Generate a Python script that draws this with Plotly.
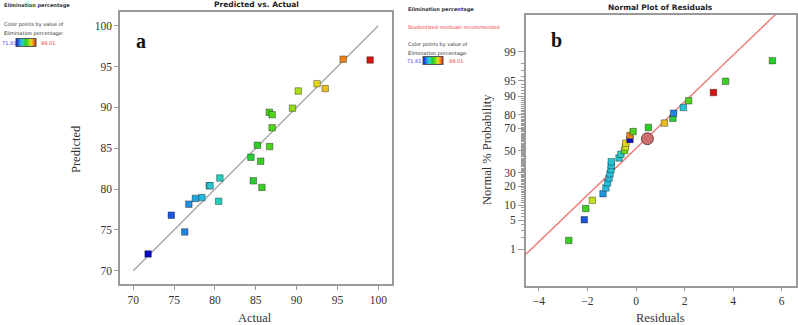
import plotly.graph_objects as go
import numpy as np
from statistics import NormalDist

# ---------------- data ----------------
# Panel a: Predicted vs. Actual (Elimination percentage)
actual = [95.7, 99.0, 92.5, 93.5, 90.2, 89.5, 86.65, 87.0, 87.0, 85.2, 86.7, 84.4, 85.6,
          80.6, 84.7, 85.75, 79.3, 79.4, 78.4, 77.6, 80.45, 76.8, 74.65, 76.3, 71.81]
predicted = [95.9, 95.8, 92.9, 92.3, 92.0, 89.9, 89.4, 89.1, 87.5, 85.35, 85.2, 83.9, 83.4,
             81.35, 81.0, 80.2, 80.4, 80.4, 78.95, 78.85, 78.5, 78.15, 76.8, 74.75, 72.05]

# Panel b: Normal plot of residuals
residuals = [-2.77, -2.13, -2.07, -1.80, -1.36, -1.24, -1.17, -1.11, -1.07, -1.03, -1.02, -1.02,
             -0.70, -0.62, -0.47, -0.44, -0.42, -0.25, -0.25, -0.12, 0.51, 1.17, 1.52, 1.55,
             1.95, 2.17, 3.19, 3.69, 5.62]
normal_prob = [1.72, 5.17, 8.62, 12.07, 15.5, 18.97, 22.4, 25.86, 29.3, 32.76, 36.2, 39.66,
               43.1, 46.55, 50.0, 53.45, 56.9, 60.34, 63.8, 67.24, 70.7, 74.1, 77.6, 81.03,
               84.48, 87.93, 91.38, 94.83, 98.28]
resid_color_value = [85.7, 74.65, 86.0, 91.0, 77.0, 78.5, 78.6, 78.7, 78.8, 79.0, 79.1, 79.2,
                     79.5, 80.2, 88.5, 91.5, 92.5, 71.9, 95.7, 86.5, 85.0, 93.5, 84.5, 76.3,
                     79.0, 86.8, 99.0, 85.5, 85.0]
highlight_resid = [0.47]
highlight_prob = [61.0]

fit_mu, fit_sigma = -0.09, 1.823
prob_ticks = [1, 5, 10, 20, 30, 50, 70, 80, 90, 95, 99]
cmin, cmax = 71.81, 99.01
x_ticks_a = [70, 75, 80, 85, 90, 95, 100]
x_ticks_b = [-4, -2, 0, 2, 4, 6]

nd = NormalDist()
z_points = [nd.inv_cdf(p / 100) for p in normal_prob]
z_high = [nd.inv_cdf(p / 100) for p in highlight_prob]
z_ticks = [nd.inv_cdf(p / 100) for p in prob_ticks]
z_minor = [nd.inv_cdf(p / 100) for p in range(1, 100)]

W, H = 798, 325
def px(x): return x / W
def py(y): return 1 - y / H

cscale = [[0.0, 'rgb(10,10,200)'], [0.12, 'rgb(30,100,230)'], [0.25, 'rgb(40,190,220)'],
          [0.36, 'rgb(40,215,170)'], [0.48, 'rgb(40,205,40)'], [0.62, 'rgb(120,215,20)'],
          [0.74, 'rgb(225,225,30)'], [0.86, 'rgb(240,150,30)'], [1.0, 'rgb(215,20,20)']]

fig = go.Figure()

# identity line for panel a
line_a = np.array([70, 100])
fig.add_trace(go.Scatter(x=line_a, y=line_a, mode='lines', line=dict(color='#a8a8a8', width=1.5),
                         xaxis='x', yaxis='y', showlegend=False, hoverinfo='skip'))
fig.add_trace(go.Scatter(x=actual, y=predicted, mode='markers', xaxis='x', yaxis='y', showlegend=False,
                         marker=dict(symbol='square', size=6.5, color=actual, coloraxis='coloraxis',
                                     line=dict(color='rgba(0,0,0,0.35)', width=1))))

# fit line for panel b
lx = np.array([-5.0, 7.0])
fig.add_trace(go.Scatter(x=lx, y=(lx - fit_mu) / fit_sigma, mode='lines',
                         line=dict(color='rgb(240,125,125)', width=1.5),
                         xaxis='x2', yaxis='y2', showlegend=False, hoverinfo='skip'))
fig.add_trace(go.Scatter(x=residuals, y=z_points, mode='markers', xaxis='x2', yaxis='y2', showlegend=False,
                         marker=dict(symbol='square', size=6.5, color=resid_color_value, coloraxis='coloraxis2',
                                     line=dict(color='rgba(0,0,0,0.35)', width=1))))
fig.add_trace(go.Scatter(x=highlight_resid, y=z_high, mode='markers', xaxis='x2', yaxis='y2', showlegend=False,
                         marker=dict(symbol='circle', size=12, color='rgb(205,110,110)',
                                     line=dict(color='rgb(110,70,70)', width=1))))

axis_common = dict(showline=True, mirror=True, linecolor='#9a9a9a', linewidth=1.5,
                   ticks='outside', tickcolor='#9a9a9a', showgrid=False, zeroline=False,
                   tickfont=dict(family='Liberation Serif', size=11.5, color='#333'))

cb_common = dict(orientation='h', lenmode='pixels', len=20, thickness=8, xanchor='left',
                 yanchor='middle', showticklabels=False, ticks='', outlinewidth=1,
                 outlinecolor='#555', xpad=0, ypad=0)

fig.update_layout(
    width=W, height=H, margin=dict(l=0, r=0, t=0, b=0, autoexpand=False),
    paper_bgcolor='white', plot_bgcolor='white',
    xaxis=dict(domain=[px(120), px(392)], range=[68.37, 101.68], tickvals=x_ticks_a, ticklen=4,
               anchor='y', **axis_common),
    yaxis=dict(domain=[py(284), py(12.3)], range=[68.37, 101.64], tickvals=x_ticks_a, ticklen=4,
               anchor='x', **axis_common),
    xaxis2=dict(domain=[px(525.7), px(795.7)], range=[-4.545, 6.58], tickvals=x_ticks_b, ticklen=4,
                anchor='y2', **axis_common),
    yaxis2=dict(domain=[py(285.7), py(15)], range=[-3.18, 3.19], tickvals=z_ticks,
                ticktext=[str(t) for t in prob_ticks], ticklen=6, anchor='x2',
                minor=dict(tickmode='array', tickvals=z_minor, ticklen=3, tickcolor='#9a9a9a', ticks='outside'),
                **axis_common),
    coloraxis=dict(colorscale=cscale, cmin=cmin, cmax=cmax,
                   colorbar=dict(x=px(15.7), y=py(43), **cb_common)),
    coloraxis2=dict(colorscale=cscale, cmin=cmin, cmax=cmax,
                    colorbar=dict(x=px(423), y=py(61.5), **cb_common)),
)

small = dict(family='DejaVu Sans', size=5, color='#333')
ann = []
def add_text(x, y, text, font, xanchor='left', textangle=0):
    ann.append(dict(x=px(x), y=py(y), xref='paper', yref='paper', text=text, showarrow=False,
                    font=font, xanchor=xanchor, yanchor='middle', textangle=textangle))

# left legend block
add_text(2, 6, '<b>Elimination percentage</b>', small)
add_text(2, 24, 'Color points by value of', small)
add_text(2, 33, 'Elimination percentage:', small)
add_text(0, 43, f'{cmin:.2f}', dict(family='DejaVu Sans', size=5, color='#4444ee'))
add_text(39, 43, f'{cmax:.2f}', dict(family='DejaVu Sans', size=5, color='#ee3333'))
# right legend block
add_text(406, 9.5, '<b>Elimination percentage</b>', small)
add_text(406, 27, 'Studentized residuals recommended', dict(family='DejaVu Sans', size=5, color='#ee3333'))
add_text(406, 44, 'Color points by value of', small)
add_text(406, 53, 'Elimination percentage:', small)
add_text(405, 61.5, f'{cmin:.2f}', dict(family='DejaVu Sans', size=5, color='#4444ee'))
add_text(447, 61.5, f'{cmax:.2f}', dict(family='DejaVu Sans', size=5, color='#ee3333'))

title_font = dict(family='DejaVu Sans', size=7.5, color='#222')
add_text(256, 5, '<b>Predicted vs. Actual</b>', title_font, xanchor='center')
add_text(660, 8, '<b>Normal Plot of Residuals</b>', title_font, xanchor='center')

lab_font = dict(family='Liberation Serif', size=12.5, color='#333')
add_text(255, 318, 'Actual', lab_font, xanchor='center')
add_text(76, 149, 'Predicted', lab_font, xanchor='center', textangle=-90)
add_text(660, 318, 'Residuals', lab_font, xanchor='center')
add_text(487, 150, 'Normal % Probability', lab_font, xanchor='center', textangle=-90)

big = dict(family='Liberation Serif', size=20, color='#111')
add_text(140.5, 41, '<b>a</b>', big, xanchor='center')
add_text(556.5, 40.5, '<b>b</b>', big, xanchor='center')

fig.update_layout(annotations=ann)
fig.write_html('out.html', config={'displayModeBar': False},
               post_script="document.body.style.margin='0';")
